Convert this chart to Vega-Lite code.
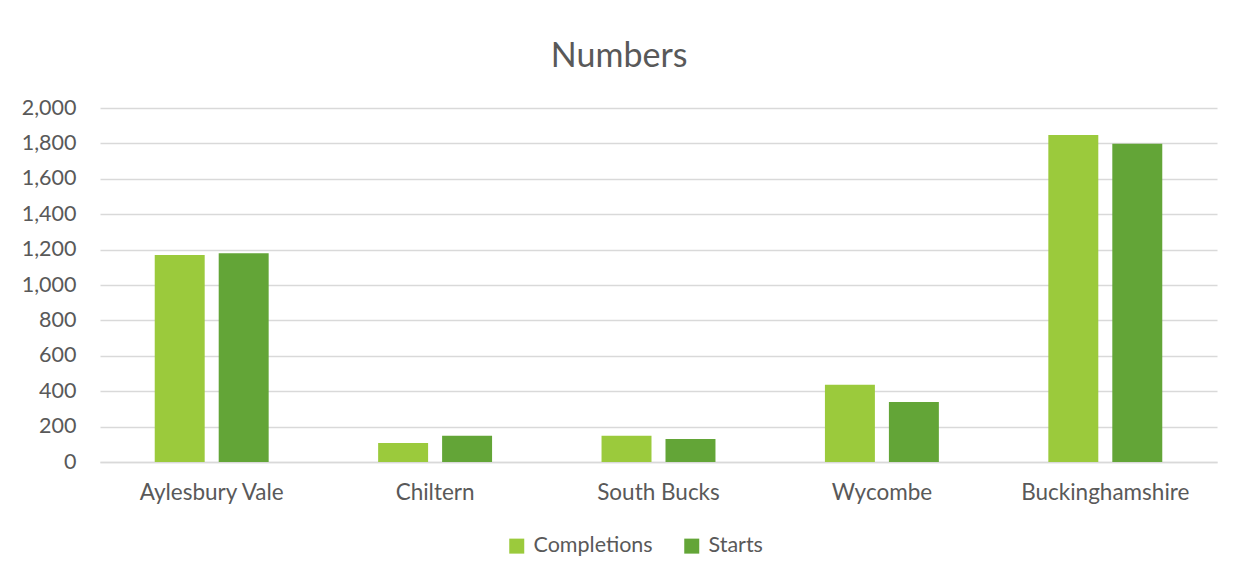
{
  "$schema": "https://vega.github.io/schema/vega-lite/v6.json",
  "autosize": {"type": "none"},
  "width": 1117,
  "height": 354,
  "padding": {"left": 100, "top": 108, "right": 28, "bottom": 119},
  "background": "white",
  "title": {"text": "Numbers", "fontSize": 34, "font": "Lato", "fontWeight": "normal", "color": "#595959", "anchor": "middle", "frame": "bounds", "offset": 23},
  "data": {"values": [
    {"area": "Aylesbury Vale", "series": "Completions", "value": 1170},
    {"area": "Aylesbury Vale", "series": "Starts", "value": 1180},
    {"area": "Chiltern", "series": "Completions", "value": 108},
    {"area": "Chiltern", "series": "Starts", "value": 148},
    {"area": "South Bucks", "series": "Completions", "value": 148},
    {"area": "South Bucks", "series": "Starts", "value": 130},
    {"area": "Wycombe", "series": "Completions", "value": 437},
    {"area": "Wycombe", "series": "Starts", "value": 339},
    {"area": "Buckinghamshire", "series": "Completions", "value": 1848},
    {"area": "Buckinghamshire", "series": "Starts", "value": 1798}
  ]},
  "mark": {"type": "bar"},
  "encoding": {
    "x": {"field": "area", "type": "nominal", "sort": null, "title": null,
      "scale": {"paddingInner": 0.49, "paddingOuter": 0.245},
      "axis": {"labelAngle": 0, "labelFont": "Lato", "labelFontSize": 22.5, "labelColor": "#595959", "labelPadding": 19, "ticks": false, "domainColor": "#d9d9d9", "domainWidth": 1.5}},
    "xOffset": {"field": "series", "type": "nominal", "scale": {"paddingInner": 0.219, "paddingOuter": 0}},
    "y": {"field": "value", "type": "quantitative", "title": null,
      "scale": {"domain": [0, 2000]},
      "axis": {"values": [0,200,400,600,800,1000,1200,1400,1600,1800,2000], "format": ",d", "labelFont": "Lato", "labelFontSize": 21.5, "labelColor": "#595959", "labelPadding": 24, "ticks": false, "domain": false, "gridColor": "#d9d9d9", "gridWidth": 1.5}},
    "color": {"field": "series", "type": "nominal", "title": null,
      "scale": {"domain": ["Completions", "Starts"], "range": ["#9bca3c", "#63a537"]},
      "legend": {"orient": "none", "legendX": 406, "legendY": 427, "direction": "horizontal", "symbolType": "square", "symbolSize": 225, "symbolStrokeWidth": 0, "symbolOpacity": 1, "labelFont": "Lato", "labelFontSize": 21.5, "labelColor": "#595959", "columnPadding": 28, "labelOffset": 6}}
  },
  "config": {"view": {"stroke": null}}
}
